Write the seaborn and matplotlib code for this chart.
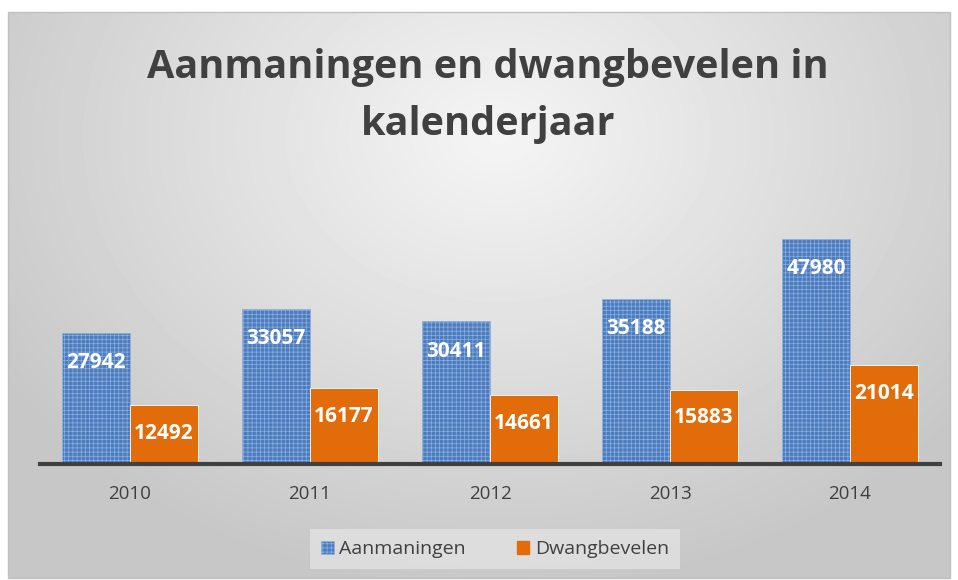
import numpy as np
import pandas as pd
import matplotlib
matplotlib.use("Agg")
import matplotlib.pyplot as plt
import seaborn as sns

jaren = ["2010", "2011", "2012", "2013", "2014"]
aanmaningen = [27942, 33057, 30411, 35188, 47980]
dwangbevelen = [12492, 16177, 14661, 15883, 21014]
reeksen = ["Aanmaningen", "Dwangbevelen"]

df = pd.DataFrame({
    "jaar": jaren * 2,
    "aantal": aanmaningen + dwangbevelen,
    "reeks": [reeksen[0]] * len(jaren) + [reeksen[1]] * len(jaren),
})

BLUE = "#4b7cc0"
ORANGE = "#e36c0a"
DARK = "#404040"

sns.set_theme(style="white")
plt.rcParams["font.family"] = ["Open Sans", "DejaVu Sans"]
plt.rcParams["hatch.linewidth"] = 0.5

W, H = 958, 580
fig = plt.figure(figsize=(W / 100, H / 100), dpi=100)
fig.patch.set_facecolor("white")

# radial gradient background inside the chart frame
x0, x1, y0, y1 = 8, 950, 12, 578
bg = fig.add_axes([x0 / W, 1 - y1 / H, (x1 - x0) / W, (y1 - y0) / H], zorder=-5)
gy, gx = np.mgrid[0:(y1 - y0), 0:(x1 - x0)]
cx, cy = (x1 - x0) * 0.52, (y1 - y0) * 0.22
d = np.sqrt(((gx - cx) / (x1 - x0)) ** 2 + ((gy - cy) / (y1 - y0)) ** 2 * 0.6)
d = np.clip(d / 0.62, 0, 1)
shade = 0.96 - (0.96 - 0.78) * d
bg.imshow(shade, cmap="gray", vmin=0, vmax=1, aspect="auto", interpolation="bilinear")
bg.set_axis_off()
fig.patches.append(plt.Rectangle((x0 / W, 1 - y1 / H), (x1 - x0) / W, (y1 - y0) / H,
                                 transform=fig.transFigure, fill=False,
                                 edgecolor="#c0c0c0", lw=1, zorder=10))

ax_top, ax_bot = 160, 464
ax = fig.add_axes([40 / W, 1 - ax_bot / H, 900 / W, (ax_bot - ax_top) / H])
ax.set_facecolor("none")

sns.barplot(data=df, x="jaar", y="aantal", hue="reeks", palette=[BLUE, ORANGE],
            width=0.756, gap=0, ax=ax, legend=False, saturation=1)

scale = 225 / 47980  # px per unit
ax.set_ylim(0, (ax_bot - ax_top) / scale)
ax.set_xlim(-0.5, 4.5)

pads = [-29, -28]
for i, cont in enumerate(ax.containers):
    for bar in cont:
        bar.set_edgecolor("white")
        bar.set_linewidth(0.6)
        if i == 0:
            bar.set_hatch("++++")
            bar.set_edgecolor("#8fb0dc")
    ax.bar_label(cont, labels=[str(int(v)) for v in cont.datavalues], padding=pads[i],
                 color="white", fontsize=15, fontweight="bold")

sns.despine(ax=ax, left=True, top=True, right=True)
ax.spines["bottom"].set_color(DARK)
ax.spines["bottom"].set_linewidth(3)
ax.set_yticks([])
ax.set_xlabel("")
ax.set_ylabel("")
ax.tick_params(axis="x", length=0, labelsize=13.5, labelcolor=DARK, pad=15)

fig.text(488 / W, 1 - 96 / H, "Aanmaningen en dwangbevelen in\nkalenderjaar",
         ha="center", va="center", fontsize=28.5, fontweight="bold", color=DARK,
         linespacing=1.6)

handles = [plt.Rectangle((0, 0), 1, 1, facecolor=BLUE, hatch="++++", edgecolor="#8fb0dc", lw=0.6),
           plt.Rectangle((0, 0), 1, 1, facecolor=ORANGE, edgecolor=ORANGE)]
leg = fig.legend(handles, reeksen, loc="center", bbox_to_anchor=(495 / W, 1 - 549 / H),
                 ncol=2, frameon=True, fontsize=14, handlelength=0.65, handleheight=0.65,
                 handletextpad=0.3, columnspacing=2.6, borderpad=0.55, borderaxespad=0,
                 fancybox=False)
leg.get_frame().set_facecolor("#e2e2e2")
leg.get_frame().set_edgecolor("none")
for t in leg.get_texts():
    t.set_color(DARK)

fig.savefig("out.png", dpi=100)
